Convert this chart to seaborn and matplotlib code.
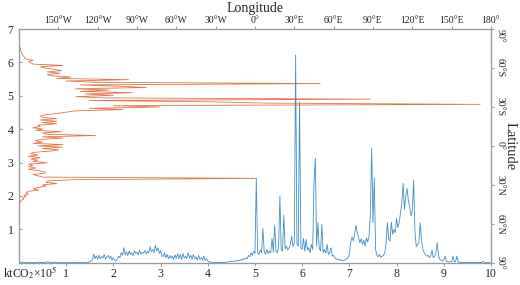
import matplotlib
matplotlib.use('Agg')
import matplotlib.pyplot as plt
import seaborn as sns

sns.set_style('white')
plt.rcParams['font.family'] = ['Liberation Serif', 'DejaVu Serif']
plt.rcParams['mathtext.fontset'] = 'stix'

# longitude profile (1 degree steps), ktCO2 x 10^5
lon = list(range(-180, 180))
lon_emis = [
    0.01, 0.01, 0.01, 0.02, 0.01, 0.01, 0.01, 0.01, 0.02, 0.01,
    0.01, 0.01, 0.01, 0.01, 0.01, 0.02, 0.01, 0.01, 0.01, 0.01,
    0.01, 0.02, 0.03, 0.02, 0.01, 0.01, 0.01, 0.02, 0.01, 0.01,
    0.01, 0.01, 0.01, 0.01, 0.02, 0.01, 0.01, 0.01, 0.01, 0.01,
    0.01, 0.01, 0.01, 0.01, 0.01, 0.01, 0.01, 0.02, 0.01, 0.01,
    0.01, 0.01, 0.01, 0.02, 0.03, 0.05, 0.08, 0.26, 0.12, 0.21,
    0.10, 0.23, 0.12, 0.19, 0.14, 0.25, 0.11, 0.18, 0.22, 0.13,
    0.20, 0.09, 0.15, 0.07, 0.05, 0.12, 0.20, 0.15, 0.30, 0.22,
    0.45, 0.24, 0.33, 0.22, 0.35, 0.25, 0.30, 0.21, 0.36, 0.28,
    0.32, 0.24, 0.38, 0.26, 0.31, 0.29, 0.36, 0.27, 0.34, 0.30,
    0.49, 0.33, 0.40, 0.30, 0.53, 0.35, 0.45, 0.28, 0.36, 0.22,
    0.18, 0.30, 0.15, 0.25, 0.12, 0.22, 0.14, 0.20, 0.10, 0.24,
    0.13, 0.27, 0.12, 0.25, 0.10, 0.28, 0.14, 0.20, 0.12, 0.30,
    0.15, 0.22, 0.10, 0.25, 0.12, 0.18, 0.08, 0.22, 0.10, 0.15,
    0.08, 0.20, 0.06, 0.12, 0.05, 0.03, 0.02, 0.01, 0.01, 0.01,
    0.01, 0.01, 0.01, 0.01, 0.01, 0.01, 0.01, 0.01, 0.02, 0.02,
    0.03, 0.05, 0.04, 0.03, 0.06, 0.05, 0.04, 0.08, 0.06, 0.10,
    0.07, 0.12, 0.10, 0.15, 0.12, 0.22, 0.18, 0.30, 0.22, 0.35,
    0.28, 2.53, 0.30, 0.25, 0.38, 0.30, 1.03, 0.35, 0.25, 0.40,
    0.28, 0.35, 0.30, 0.73, 0.32, 1.13, 0.35, 0.30, 0.45, 2.00,
    0.40, 0.35, 1.43, 0.42, 0.50, 0.38, 0.45, 0.55, 0.80, 0.48,
    0.60, 6.22, 0.55, 0.50, 4.82, 0.45, 0.40, 0.73, 0.35, 0.70,
    0.38, 0.45, 0.30, 0.55, 0.40, 2.40, 3.13, 0.50, 1.20, 0.45,
    0.35, 1.15, 0.30, 0.40, 0.28, 0.55, 0.25, 0.30, 0.45, 0.20,
    0.22, 0.15, 0.10, 0.12, 0.08, 0.10, 0.06, 0.08, 0.07, 0.10,
    0.12, 0.15, 0.25, 0.60, 0.78, 0.65, 0.85, 1.12, 0.90, 0.75,
    0.60, 0.72, 0.55, 0.68, 0.50, 0.75, 0.62, 0.80, 1.45, 3.43,
    1.20, 2.53, 0.40, 0.22, 0.18, 0.25, 0.15, 0.20, 0.22, 0.30,
    0.60, 1.20, 0.70, 0.65, 1.22, 0.85, 1.00, 0.90, 1.33, 1.05,
    1.20, 1.50, 1.80, 2.38, 1.60, 2.00, 2.23, 1.85, 1.68, 1.40,
    1.55, 2.48, 0.95, 0.48, 0.55, 0.60, 1.20, 0.68, 0.40, 0.30,
    0.25, 0.20, 0.22, 0.15, 0.20, 0.38, 0.15, 0.20, 0.30, 0.60,
    0.20, 0.10, 0.08, 0.05, 0.10, 0.20, 0.05, 0.03, 0.03, 0.03,
    0.03, 0.20, 0.03, 0.04, 0.20, 0.02, 0.02, 0.01, 0.01, 0.01,
    0.01, 0.01, 0.01, 0.01, 0.01, 0.01, 0.01, 0.01, 0.01, 0.01,
    0.01, 0.01, 0.01, 0.01, 0.05, 0.01, 0.01, 0.01, 0.01, 0.01,
]

# latitude profile (1 degree steps, negative = south)
lat = list(range(-77, 46))
lat_emis = [
    0.00, 0.02, 0.03, 0.02, 0.04, 0.05, 0.06, 0.08, 0.10, 0.12,
    0.15, 0.30, 0.20, 0.25, 0.30, 0.93, 0.45, 0.55, 0.75, 0.90,
    0.60, 0.87, 0.60, 0.70, 1.10, 0.80, 2.32, 1.00, 1.65, 6.38,
    1.30, 2.10, 2.70, 1.20, 1.90, 1.30, 2.40, 1.40, 2.00, 1.20,
    1.78, 7.44, 1.50, 4.01, 5.25, 9.77, 2.00, 2.99, 1.50, 2.20,
    1.20, 1.00, 0.80, 0.55, 0.45, 0.50, 0.80, 0.45, 0.80, 0.50,
    0.80, 0.40, 0.45, 0.30, 0.50, 0.35, 0.90, 0.50, 0.60, 1.62,
    0.50, 0.93, 0.45, 0.35, 0.50, 0.30, 0.93, 0.40, 0.91, 0.50,
    0.84, 0.66, 0.30, 0.25, 0.40, 0.20, 0.45, 0.25, 0.40, 0.30,
    0.60, 0.20, 0.30, 0.20, 0.35, 0.20, 0.40, 0.55, 0.56, 0.30,
    0.40, 0.50, 5.02, 1.16, 0.60, 0.57, 0.80, 0.50, 0.57, 0.40,
    0.30, 0.42, 0.20, 0.15, 0.20, 0.10, 0.15, 0.08, 0.10, 0.05,
    0.03, 0.02, 0.00,
]

value_ticks_x = [1, 2, 3, 4, 5, 6, 7, 8, 9, 10]
value_ticks_y = [1, 2, 3, 4, 5, 6, 7]
lon_ticks = [-150, -120, -90, -60, -30, 0, 30, 60, 90, 120, 150, 180]
lon_labels = ['150°W', '120°W', '90°W', '60°W', '30°W', '0°',
              '30°E', '60°E', '90°E', '120°E', '150°E', '180°']
lat_ticks = [-90, -60, -30, 0, 30, 60, 90]
lat_labels = ['90°', '60°S', '30°S', '0°', '30°N', '60°N', '90°']

blue = '#2f82c0'
orange = '#e05c28'
grey = '#9a9a9a'

fig = plt.figure(figsize=(5.2, 2.85), dpi=100)
ax = fig.add_axes([0.0365, 0.078, 0.9077, 0.820])
ax_top = ax.twiny()
ax_right = ax.twinx()

sns.lineplot(x=lon, y=lon_emis, ax=ax_top, color=blue, lw=0.6, alpha=0.9,
             estimator=None, sort=False)
sns.lineplot(x=lat_emis, y=lat, ax=ax_right, color=orange, lw=0.6, alpha=0.85,
             estimator=None, sort=False)

ax.set_xlim(0, 10)
ax.set_ylim(0, 7)
ax_top.set_xlim(-180, 180)
ax_right.set_ylim(90, -90)

ax.set_xticks(value_ticks_x)
ax.set_yticks(value_ticks_y)
ax.tick_params(axis='x', direction='out', length=2, color=grey, labelsize=8.5, pad=2)
ax.tick_params(axis='y', direction='in', length=2, color=grey, labelsize=8.5, pad=4)

ax_top.set_xticks(lon_ticks)
ax_top.set_xticklabels(lon_labels)
ax_top.tick_params(axis='x', direction='out', length=2, color=grey, labelsize=7, pad=1)
ax_top.set_xlabel('Longitude', fontsize=10, labelpad=3)
ax_top.set_ylabel('')

ax_right.set_yticks(lat_ticks)
ax_right.set_yticklabels(lat_labels, rotation=-90, va='center')
ax_right.get_yticklabels()[0].set_va('top')
ax_right.tick_params(axis='y', direction='out', length=2, color=grey, labelsize=7, pad=1)
ax_right.set_ylabel('Latitude', fontsize=10.5, rotation=-90, labelpad=9)
ax_right.set_xlabel('')

for a in (ax, ax_top, ax_right):
    for s in a.spines.values():
        s.set_color(grey)
        s.set_linewidth(0.8)

fig.text(57 / 520, 1 - 273 / 285, 'ktCO$_2$×10$^5$', fontsize=8.5,
         ha='right', va='center')

fig.savefig('out.png', dpi=100)
